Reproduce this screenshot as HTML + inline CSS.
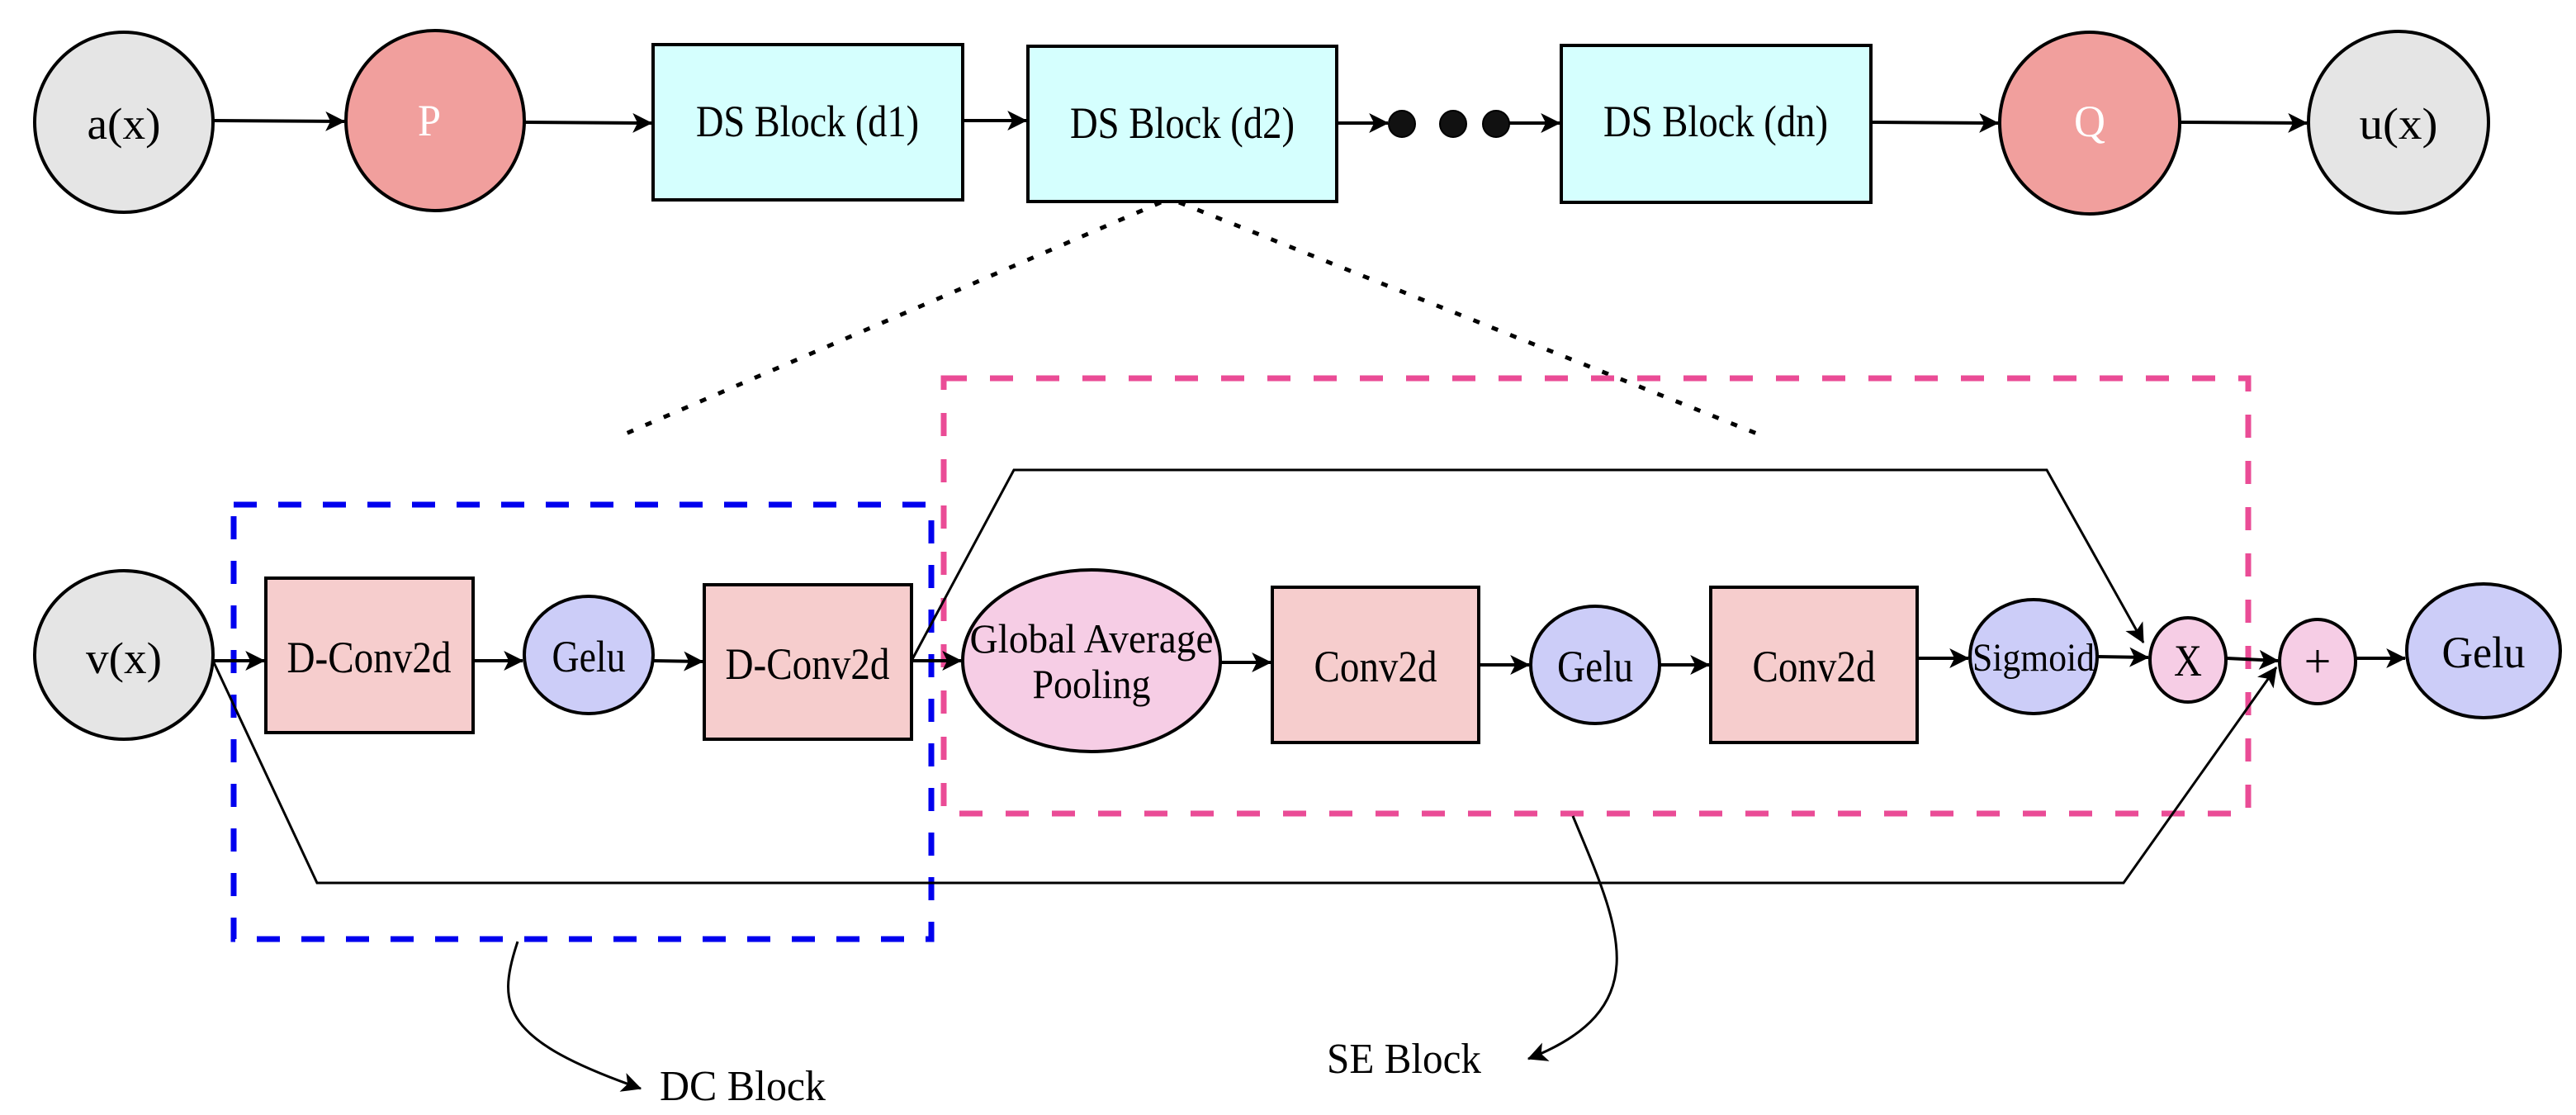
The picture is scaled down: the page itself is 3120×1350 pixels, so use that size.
<!DOCTYPE html>
<html><head><meta charset="utf-8"><style>
html,body{margin:0;padding:0;background:#fff;}
svg{display:block;}
</style></head><body>
<svg width="3120" height="1350" viewBox="0 0 3120 1350" xmlns="http://www.w3.org/2000/svg" font-family="'Liberation Serif', serif">
<defs>
<marker id="a" viewBox="0 0 20 20" refX="19" refY="10" markerWidth="24" markerHeight="26" orient="auto" markerUnits="userSpaceOnUse">
<path d="M0,0 L20,10 L0,20 L5,10 Z" fill="#000"/>
</marker>
</defs>

<!-- Top row -->
<g stroke="#000" stroke-width="4">
<ellipse cx="150" cy="148" rx="108" ry="109" fill="#e5e5e5"/>
<ellipse cx="527" cy="146" rx="108" ry="109" fill="#f19f9d"/>
<rect x="791" y="54" width="375" height="188" fill="#d5fffe"/>
<rect x="1245" y="56" width="374" height="188" fill="#d5fffe"/>
<rect x="1891" y="55" width="375" height="190" fill="#d5fffe"/>
<ellipse cx="2531" cy="149" rx="109" ry="110" fill="#f19f9d"/>
<ellipse cx="2905" cy="148" rx="109" ry="110" fill="#e5e5e5"/>
</g>
<g fill="#111" stroke="#000" stroke-width="2">
<ellipse cx="1698" cy="150" rx="16" ry="16"/>
<ellipse cx="1760" cy="150" rx="16" ry="16"/>
<ellipse cx="1812" cy="150" rx="16" ry="16"/>
</g>
<g stroke="#000" stroke-width="4" fill="none" marker-end="url(#a)">
<line x1="258" y1="146" x2="417" y2="147"/>
<line x1="635" y1="148" x2="789" y2="149"/>
<line x1="1166" y1="146" x2="1243" y2="146"/>
<line x1="1619" y1="149" x2="1681" y2="149"/>
<line x1="1828" y1="149" x2="1889" y2="149"/>
<line x1="2266" y1="148" x2="2420" y2="149"/>
<line x1="2640" y1="148" x2="2794" y2="149"/>
</g>
<g font-family="'Liberation Serif', serif" font-size="54" text-anchor="middle" lengthAdjust="spacingAndGlyphs">
<text x="150" y="168" textLength="89" lengthAdjust="spacingAndGlyphs">a(x)</text>
<text x="520" y="164" fill="#fff" textLength="28" lengthAdjust="spacingAndGlyphs">P</text>
<text x="978" y="165" textLength="270" lengthAdjust="spacingAndGlyphs">DS Block (d1)</text>
<text x="1432" y="167" textLength="272" lengthAdjust="spacingAndGlyphs">DS Block (d2)</text>
<text x="2078" y="165" textLength="272" lengthAdjust="spacingAndGlyphs">DS Block (dn)</text>
<text x="2531" y="165" fill="#fff" textLength="38" lengthAdjust="spacingAndGlyphs">Q</text>
<text x="2905" y="168" textLength="95" lengthAdjust="spacingAndGlyphs">u(x)</text>
</g>

<!-- dotted zoom lines -->
<g stroke="#000" stroke-width="5" stroke-dasharray="8 16" fill="none">
<line x1="1406" y1="245" x2="758" y2="525"/>
<line x1="1428" y1="245" x2="2128" y2="525"/>
</g>

<!-- dashed boxes -->
<rect x="283" y="611" width="845" height="526" fill="none" stroke="#0000ee" stroke-width="7" stroke-dasharray="28 26"/>
<rect x="1143" y="458" width="1580" height="527" fill="none" stroke="#ea4c96" stroke-width="7" stroke-dasharray="28 28"/>

<!-- skip connections -->
<g stroke="#000" stroke-width="3" fill="none">
<polyline points="1104,800 1228,569 2479,569 2596,778" marker-end="url(#a)"/>
<polyline points="258,800 384,1069 2572,1069 2757,808" marker-end="url(#a)"/>
</g>

<!-- bottom nodes -->
<g stroke="#000" stroke-width="4">
<ellipse cx="150" cy="793" rx="108" ry="102" fill="#e5e5e5"/>
<rect x="322" y="700" width="251" height="187" fill="#f6cdcd"/>
<ellipse cx="713" cy="793" rx="78" ry="71" fill="#cccdf8"/>
<rect x="853" y="708" width="251" height="187" fill="#f6cdcd"/>
<ellipse cx="1322" cy="800" rx="156" ry="110" fill="#f6cde5"/>
<rect x="1541" y="711" width="250" height="188" fill="#f6cdcd"/>
<ellipse cx="1932" cy="805" rx="78" ry="71" fill="#cccdf8"/>
<rect x="2072" y="711" width="250" height="188" fill="#f6cdcd"/>
<ellipse cx="2463" cy="795" rx="77" ry="69" fill="#cccdf8"/>
<ellipse cx="2650" cy="799" rx="46" ry="51" fill="#f6cde5"/>
<ellipse cx="2807" cy="801" rx="46" ry="51" fill="#f6cde5"/>
<ellipse cx="3008" cy="788" rx="93" ry="81" fill="#cccdf8"/>
</g>
<g stroke="#000" stroke-width="4" fill="none" marker-end="url(#a)">
<line x1="258" y1="800" x2="320" y2="800"/>
<line x1="573" y1="800" x2="633" y2="800"/>
<line x1="791" y1="800" x2="851" y2="801"/>
<line x1="1104" y1="800" x2="1164" y2="800"/>
<line x1="1478" y1="802" x2="1539" y2="802"/>
<line x1="1791" y1="805" x2="1852" y2="805"/>
<line x1="2009" y1="805" x2="2070" y2="805"/>
<line x1="2322" y1="797" x2="2384" y2="797"/>
<line x1="2540" y1="795" x2="2602" y2="796"/>
<line x1="2697" y1="797" x2="2759" y2="800"/>
<line x1="2854" y1="797" x2="2913" y2="797"/>
</g>
<g font-family="'Liberation Serif', serif" font-size="54" text-anchor="middle">
<text x="150" y="815" textLength="92" lengthAdjust="spacingAndGlyphs">v(x)</text>
<text x="447" y="814" textLength="199" lengthAdjust="spacingAndGlyphs">D-Conv2d</text>
<text x="713" y="813" textLength="89" lengthAdjust="spacingAndGlyphs">Gelu</text>
<text x="978" y="822" textLength="199" lengthAdjust="spacingAndGlyphs">D-Conv2d</text>
<text x="1322" y="790" font-size="50" textLength="295" lengthAdjust="spacingAndGlyphs">Global Average</text>
<text x="1322" y="845" font-size="50" textLength="143" lengthAdjust="spacingAndGlyphs">Pooling</text>
<text x="1666" y="825" textLength="149" lengthAdjust="spacingAndGlyphs">Conv2d</text>
<text x="1932" y="825" textLength="92" lengthAdjust="spacingAndGlyphs">Gelu</text>
<text x="2197" y="825" textLength="149" lengthAdjust="spacingAndGlyphs">Conv2d</text>
<text x="2463" y="812" font-size="48" textLength="148" lengthAdjust="spacingAndGlyphs">Sigmoid</text>
<text x="2650" y="818" textLength="34" lengthAdjust="spacingAndGlyphs">X</text>
<text x="2807" y="820" font-size="58">+</text>
<text x="3008" y="808" textLength="101" lengthAdjust="spacingAndGlyphs">Gelu</text>
</g>

<!-- curved labels -->
<g stroke="#000" stroke-width="3" fill="none" marker-end="url(#a)">
<path d="M627,1140 C600,1220 610,1260 776,1318"/>
<path d="M1905,988 C1960,1120 2010,1220 1851,1282"/>
</g>
<text x="799" y="1332" font-family="'Liberation Serif', serif" font-size="52" textLength="201" lengthAdjust="spacingAndGlyphs">DC Block</text>
<text x="1607" y="1299" font-family="'Liberation Serif', serif" font-size="52" textLength="187" lengthAdjust="spacingAndGlyphs">SE Block</text>
</svg>
</body></html>
